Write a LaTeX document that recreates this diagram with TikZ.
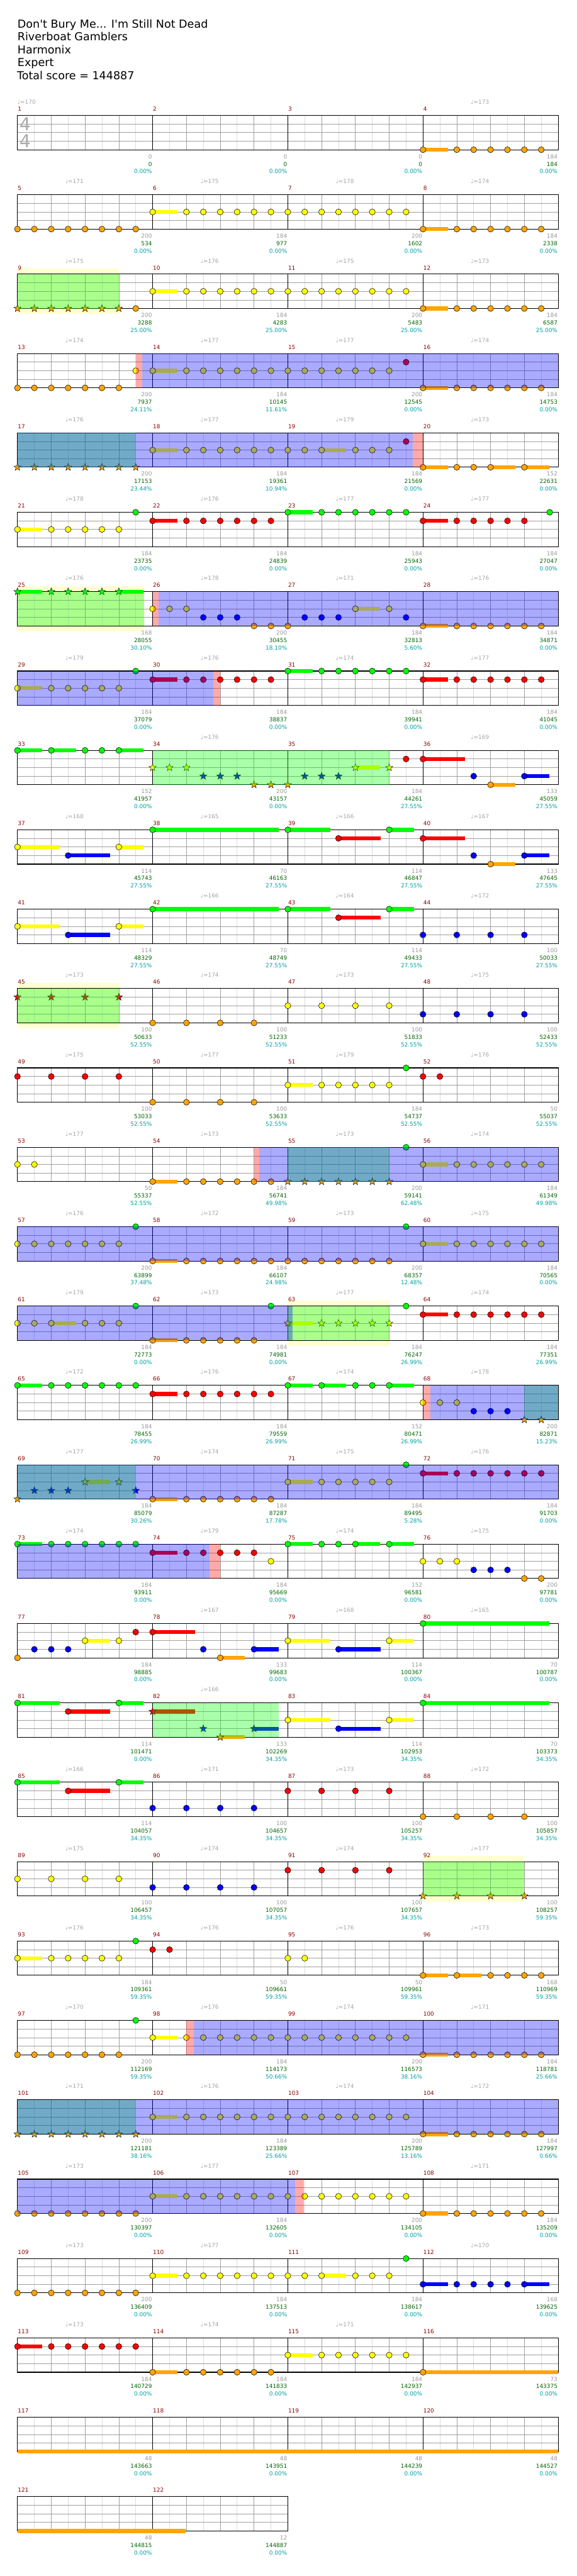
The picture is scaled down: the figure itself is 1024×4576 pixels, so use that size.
\documentclass[tikz,border=0pt]{standalone}
\usepackage{fontspec}
\setmainfont{DejaVu Sans}
\newfontfamily\dvs{DejaVu Sans}
\definecolor{cG}{RGB}{0,255,0}
\definecolor{cR}{RGB}{255,0,0}
\definecolor{cY}{RGB}{255,255,0}
\definecolor{cB}{RGB}{0,0,255}
\definecolor{cO}{RGB}{255,165,0}
\definecolor{cMnum}{RGB}{139,0,0}
\definecolor{cSgray}{RGB}{153,153,153}
\definecolor{cSgreen}{RGB}{0,100,0}
\definecolor{cScyan}{RGB}{0,160,160}
\definecolor{cBand}{RGB}{255,255,208}
\definecolor{cGrid}{RGB}{160,160,160}
\definecolor{cLight}{RGB}{220,220,220}
\definecolor{cTempo}{RGB}{165,165,165}
\definecolor{cTS}{RGB}{170,170,170}
\tikzset{
 notehead/.style={draw=black,line width=0.6pt},
 lightln/.style={draw=cLight,line width=0.8pt},
 gridln/.style={draw=cGrid,line width=0.8pt},
 measln/.style={draw=black,line width=0.8pt},
 frameln/.style={draw=black,line width=1.2pt},
 mnumst/.style={anchor=base west,inner sep=0pt,text=cMnum,font=\dvs\fontsize{10}{12}\selectfont},
 scst/.style={anchor=base east,inner sep=0pt,font=\dvs\fontsize{10}{12}\selectfont},
 tempost/.style={anchor=base west,inner sep=0pt,text=cTempo,font=\dvs\fontsize{10}{12}\selectfont},
 titlest/.style={anchor=base west,inner sep=0pt,font=\dvs\fontsize{19.6}{24}\selectfont},
 tsst/.style={anchor=base,inner sep=0pt,text=cTS,font=\dvs\fontsize{31.5}{36}\selectfont}
}
\def\laneG{0}\def\laneR{1}\def\laneY{2}\def\laneB{3}\def\laneO{4}
\newcommand\setxy[3]{%
 \pgfmathsetmacro\px{31+240*mod(#1-1,4)+30*#2}%
 \pgfmathsetmacro\py{205+141*floor((#1-1)/4)+15.25*\csname lane#3\endcsname}}
\newcommand\drawNH[3]{\setxy{#1}{#2}{#3}\path[notehead,fill=c#3] (\px,\py) circle[radius=5.3];}
\newcommand\drawSUS[4]{\setxy{#1}{#2}{#3}\fill[c#3] (\px,\py-3.5) rectangle (\px+#4,\py+3.5);}
\newcommand\drawSH[3]{\setxy{#1}{#2}{#3}\path[notehead,line width=0.5pt,fill=c#3] (\px,\py) +(-90:6.8) -- +(-54:2.8) -- +(-18:6.8) -- +(18:2.8) -- +(54:6.8) -- +(90:2.8) -- +(126:6.8) -- +(162:2.8) -- +(198:6.8) -- +(234:2.8) -- cycle;}
\newcommand\gobIII[3]{}
\newcommand\gobIV[4]{}
\newcommand\NHS[4]{\SUS{#1}{#2}{#3}{#4}\NH{#1}{#2}{#3}}
\newcommand\SHS[4]{\SUS{#1}{#2}{#3}{#4}\SH{#1}{#2}{#3}}
\newcommand\NL[3]{\foreach \ee in {#3}{\NH{#1}{\ee}{#2}}}
\newcommand\SL[3]{\foreach \ee in {#3}{\SH{#1}{\ee}{#2}}}
\newcommand\ROW[2]{%
 \pgfmathsetmacro\ty{205+141*#1}%
 \pgfmathsetmacro\xe{31+240*#2}%
 \pgfmathtruncatemacro\ne{8*#2-1}%
 \pgfmathtruncatemacro\nb{4*#2-1}%
 \pgfmathtruncatemacro\nm{#2-1}%
 \foreach \ii in {1,...,\ne}{\draw[lightln] (31+30*\ii,\ty) -- ++(0,61);}
 \foreach \ii in {1,...,\nb}{\draw[gridln] (31+60*\ii,\ty) -- ++(0,61);}
 \foreach \kk in {1,2,3}{\draw[gridln] (31,\ty+15.25*\kk) -- (\xe,\ty+15.25*\kk);}
 \foreach \ii in {1,...,\nm}{\draw[measln] (31+240*\ii,\ty) -- ++(0,61);}
 \draw[frameln] (31,\ty) rectangle (\xe,\ty+61);
 \foreach \jj in {1,...,#2}{\pgfmathtruncatemacro\mm{4*#1+\jj}\node[mnumst] (mn\mm) at (31+240*\jj-239.5,\ty-7.7) {\mm};}}
\newcommand\OV[4]{\pgfmathsetmacro\ty{205+141*#2}\fill[#1,fill opacity=0.3333] (#3,\ty) rectangle (#4,\ty+61);}
\newcommand\BAND[3]{\pgfmathsetmacro\ty{205+141*#1}\fill[cBand] (#2,\ty-10) rectangle (#3,\ty+71);}
\newcommand\SC[4]{\pgfmathsetmacro\xr{31+240*(mod(#1-1,4)+1)-1}\pgfmathsetmacro\ty{205+141*floor((#1-1)/4)}%
 \node[scst,text=cSgray] (sa#1) at (\xr,\ty+76.7) {#2};
 \node[scst,text=cSgreen] (sb#1) at (\xr,\ty+90) {#3};
 \node[scst,text=cScyan] (sc#1) at (\xr,\ty+103.3) {#4\%};}
\newcommand\TP[2]{\pgfmathsetmacro\xt{31+240*mod(#1-1,4)+85}\pgfmathsetmacro\ty{205+141*floor((#1-1)/4)}\node[tempost] (tp#1) at (\xt,\ty-20) {♩=#2};}
\newcommand\NOTEDATA{%
\NHS{4}{0}{O}{44}\NL{4}{O}{2,...,7}
\NL{5}{O}{0,...,7}
\NHS{6}{0}{Y}{44}\NL{6}{Y}{2,...,7}
\NL{7}{Y}{0,...,7}
\NHS{8}{0}{O}{44}\NL{8}{O}{2,...,7}
\SL{9}{O}{0,...,6}\NH{9}{7}{O}
\NHS{10}{0}{Y}{44}\NL{10}{Y}{2,...,7}
\NL{11}{Y}{0,...,7}
\NHS{12}{0}{O}{44}\NL{12}{O}{2,...,7}
\NL{13}{O}{0,...,6}\NH{13}{7}{Y}
\NHS{14}{0}{Y}{44}\NL{14}{Y}{2,...,7}
\NL{15}{Y}{0,...,6}\NH{15}{7}{R}
\NHS{16}{0}{O}{44}\NL{16}{O}{2,...,7}
\SL{17}{O}{0,...,7}
\NHS{18}{0}{Y}{44}\NL{18}{Y}{2,...,7}
\NL{19}{Y}{0,1,4,5,6}\NHS{19}{2}{Y}{44}\NH{19}{7}{R}
\NHS{20}{0}{O}{44}\NL{20}{O}{2,3}\NHS{20}{4}{O}{44}\NHS{20}{6}{O}{44}
\NHS{21}{0}{Y}{44}\NL{21}{Y}{2,...,6}\NH{21}{7}{G}
\NHS{22}{0}{R}{44}\NL{22}{R}{2,...,7}
\NHS{23}{0}{G}{44}\NL{23}{G}{2,...,7}
\NHS{24}{0}{R}{44}\NL{24}{R}{2,...,6}\NH{24}{7.5}{G}
\SHS{25}{0}{G}{44}\SL{25}{G}{2,...,5}\SHS{25}{6}{G}{44}
\NL{26}{Y}{0,1,2}\NL{26}{B}{3,4,5}\NL{26}{O}{6,7}
\NH{27}{0}{O}\NL{27}{B}{1,2,3}\NHS{27}{4}{Y}{44}\NH{27}{6}{Y}\NH{27}{7}{B}
\NHS{28}{0}{O}{44}\NL{28}{O}{2,...,7}
\NHS{29}{0}{Y}{44}\NL{29}{Y}{2,...,6}\NH{29}{7}{G}
\NHS{30}{0}{R}{44}\NL{30}{R}{2,...,7}
\NHS{31}{0}{G}{44}\NL{31}{G}{2,...,7}
\NHS{32}{0}{R}{44}\NL{32}{R}{2,...,7}
\NHS{33}{0}{G}{44}\NHS{33}{2}{G}{44}\NL{33}{G}{4,5}\NHS{33}{6}{G}{44}
\SL{34}{Y}{0,1,2}\SL{34}{B}{3,4,5}\SL{34}{O}{6,7}
\SH{35}{0}{O}\SL{35}{B}{1,2,3}\SHS{35}{4}{Y}{44}\SH{35}{6}{Y}\NH{35}{7}{R}
\NHS{36}{0}{R}{75}\NH{36}{3}{B}\NHS{36}{4}{O}{44}\NHS{36}{6}{B}{44}
\NHS{37}{0}{Y}{75}\NHS{37}{3}{B}{75}\NHS{37}{6}{Y}{44}
\NHS{38}{0}{G}{224}
\NHS{39}{0}{G}{75}\NHS{39}{3}{R}{75}\NHS{39}{6}{G}{44}
\NHS{40}{0}{R}{75}\NH{40}{3}{B}\NHS{40}{4}{O}{44}\NHS{40}{6}{B}{44}
\NHS{41}{0}{Y}{75}\NHS{41}{3}{B}{75}\NHS{41}{6}{Y}{44}
\NHS{42}{0}{G}{224}
\NHS{43}{0}{G}{75}\NHS{43}{3}{R}{75}\NHS{43}{6}{G}{44}
\NL{44}{B}{0,2,4,6}
\SL{45}{R}{0,2,4,6}
\NL{46}{O}{0,2,4,6}
\NL{47}{Y}{0,2,4,6}
\NL{48}{B}{0,2,4,6}
\NL{49}{R}{0,2,4,6}
\NL{50}{O}{0,2,4,6}
\NHS{51}{0}{Y}{44}\NL{51}{Y}{2,...,6}\NH{51}{7}{G}
\NL{52}{R}{0,1}
\NL{53}{Y}{0,1}
\NHS{54}{0}{O}{44}\NL{54}{O}{2,...,7}
\SL{55}{O}{0,...,6}\NH{55}{7}{G}
\NHS{56}{0}{Y}{44}\NL{56}{Y}{2,...,7}
\NL{57}{Y}{0,...,6}\NH{57}{7}{G}
\NHS{58}{0}{O}{44}\NL{58}{O}{2,...,7}
\NL{59}{O}{0,...,6}\NH{59}{7}{G}
\NHS{60}{0}{Y}{44}\NL{60}{Y}{2,...,7}
\NL{61}{Y}{0,1,4,5,6}\NHS{61}{2}{Y}{44}\NH{61}{7}{G}
\NHS{62}{0}{O}{44}\NL{62}{O}{2,...,6}\NH{62}{7}{G}
\SHS{63}{0}{Y}{44}\SL{63}{Y}{2,...,6}\NH{63}{7}{G}
\NHS{64}{0}{R}{44}\NL{64}{R}{2,...,7}
\NHS{65}{0}{G}{44}\NL{65}{G}{2,...,7}
\NHS{66}{0}{R}{44}\NL{66}{R}{2,...,7}
\NHS{67}{0}{G}{44}\NHS{67}{2}{G}{44}\NL{67}{G}{4,5}\NHS{67}{6}{G}{44}
\NL{68}{Y}{0,1,2}\NL{68}{B}{3,4,5}\SL{68}{O}{6,7}
\SH{69}{0}{O}\SL{69}{B}{1,2,3}\SHS{69}{4}{Y}{44}\SH{69}{6}{Y}\SH{69}{7}{B}
\NHS{70}{0}{O}{44}\NL{70}{O}{2,...,7}
\NHS{71}{0}{Y}{44}\NL{71}{Y}{2,...,6}\NH{71}{7}{G}
\NHS{72}{0}{R}{44}\NL{72}{R}{2,...,7}
\NHS{73}{0}{G}{44}\NL{73}{G}{2,...,7}
\NHS{74}{0}{R}{44}\NL{74}{R}{2,...,6}\NH{74}{7}{Y}
\NHS{75}{0}{G}{44}\NL{75}{G}{2,3}\NHS{75}{4}{G}{44}\NHS{75}{6}{G}{44}
\NL{76}{Y}{0,1,2}\NL{76}{B}{3,4,5}\NL{76}{O}{6,7}
\NH{77}{0}{O}\NL{77}{B}{1,2,3}\NHS{77}{4}{Y}{44}\NH{77}{6}{Y}\NH{77}{7}{R}
\NHS{78}{0}{R}{75}\NH{78}{3}{B}\NHS{78}{4}{O}{44}\NHS{78}{6}{B}{44}
\NHS{79}{0}{Y}{75}\NHS{79}{3}{B}{75}\NHS{79}{6}{Y}{44}
\NHS{80}{0}{G}{224}
\NHS{81}{0}{G}{75}\NHS{81}{3}{R}{75}\NHS{81}{6}{G}{44}
\SHS{82}{0}{R}{75}\SH{82}{3}{B}\SHS{82}{4}{O}{44}\SHS{82}{6}{B}{44}
\NHS{83}{0}{Y}{75}\NHS{83}{3}{B}{75}\NHS{83}{6}{Y}{44}
\NHS{84}{0}{G}{224}
\NHS{85}{0}{G}{75}\NHS{85}{3}{R}{75}\NHS{85}{6}{G}{44}
\NL{86}{B}{0,2,4,6}
\NL{87}{R}{0,2,4,6}
\NL{88}{O}{0,2,4,6}
\NL{89}{Y}{0,2,4,6}
\NL{90}{B}{0,2,4,6}
\NL{91}{R}{0,2,4,6}
\SL{92}{O}{0,2,4,6}
\NHS{93}{0}{Y}{44}\NL{93}{Y}{2,...,6}\NH{93}{7}{G}
\NL{94}{R}{0,1}
\NL{95}{Y}{0,1}
\NHS{96}{0}{O}{44}\NHS{96}{2}{O}{44}\NL{96}{O}{4,...,7}
\NL{97}{O}{0,...,6}\NH{97}{7}{G}
\NHS{98}{0}{Y}{44}\NL{98}{Y}{2,...,7}
\NL{99}{Y}{0,...,7}
\NHS{100}{0}{O}{44}\NL{100}{O}{2,...,7}
\SL{101}{O}{0,...,7}
\NHS{102}{0}{Y}{44}\NL{102}{Y}{2,...,7}
\NL{103}{Y}{0,...,7}
\NHS{104}{0}{O}{44}\NL{104}{O}{2,...,7}
\NL{105}{O}{0,...,7}
\NHS{106}{0}{Y}{44}\NL{106}{Y}{2,...,7}
\NL{107}{Y}{0,...,7}
\NHS{108}{0}{O}{44}\NL{108}{O}{2,...,7}
\NL{109}{O}{0,...,7}
\NHS{110}{0}{Y}{44}\NL{110}{Y}{2,...,7}
\NL{111}{Y}{0,1,4,5,6}\NHS{111}{2}{Y}{44}\NH{111}{7}{G}
\NHS{112}{0}{B}{44}\NL{112}{B}{2,...,5}\NHS{112}{6}{B}{44}
\NHS{113}{0}{R}{44}\NL{113}{R}{2,...,7}
\NHS{114}{0}{O}{44}\NL{114}{O}{2,...,7}
\NHS{115}{0}{Y}{44}\NL{115}{Y}{2,...,7}
\NHS{116}{0}{O}{240}
\SUS{117}{0}{O}{960}
\SUS{121}{0}{O}{299}}
\begin{document}
\begin{tikzpicture}[x=1pt,y=-1pt]
\useasboundingbox (0,0) rectangle (1024,4576);
\fill[white] (0,0) rectangle (1024,4576);
% title
\node[titlest] (t1) at (31,49.5) {Don't Bury Me... I'm Still Not Dead};
\node[titlest] (t2) at (31,72) {Riverboat Gamblers};
\node[titlest] (t3) at (31,95.3) {Harmonix};
\node[titlest] (t4) at (31,118.3) {Expert};
\node[titlest] (t5) at (30,141.7) {Total score = 144887};
% bands
\BAND{2}{31}{211}\BAND{6}{31}{256}\BAND{11}{31}{211}\BAND{15}{511}{691}\BAND{22}{751}{931}
% rows
\foreach \rr in {0,...,29}{\ROW{\rr}{4}}
\ROW{30}{2}
% time signature
\node[tsst] (ts1) at (44.5,232.3) {4};
\node[tsst] (ts2) at (44.5,262.3) {4};
% tempos
\node[tempost] (tp1) at (31,185) {♩=170};
\foreach \aa/\bb in {4/173,5/171,6/175,7/178,8/174,9/175,10/176,11/175,12/173,13/174,14/177,15/177,16/174,17/176,18/177,19/179,20/173,21/178,22/176,23/177,24/177,25/176,26/178,27/171,28/176,29/179,30/176,31/174,32/177,34/176,36/169,37/168,38/165,39/166,40/167,42/166,43/164,44/172,45/173,46/174,47/173,48/175,49/175,50/177,51/179,52/176,53/177,54/173,55/173,56/174,57/176,58/172,59/173,60/175,61/179,62/173,63/177,64/174,65/172,66/176,67/174,68/178,69/177,70/174,71/175,72/176,73/174,74/179,75/174,76/175,78/167,79/168,80/165,82/166,85/166,86/171,87/173,88/172,89/175,90/174,91/174,92/177,93/176,94/176,95/176,96/173,97/170,98/176,99/174,100/171,101/171,102/176,103/174,104/172,105/173,106/177,108/171,109/173,110/177,112/170,113/173,114/174,115/171}{\TP{\aa}{\bb}}
% scores
\foreach \aa/\bb/\cc/\dd in {1/0/0/0.00,2/0/0/0.00,3/0/0/0.00,4/184/184/0.00,5/200/534/0.00,6/184/977/0.00,7/200/1602/0.00,8/184/2338/0.00,9/200/3288/25.00,10/184/4283/25.00,11/200/5483/25.00,12/184/6587/25.00,13/200/7937/24.11,14/184/10145/11.61,15/200/12545/0.00,16/184/14753/0.00,17/200/17153/23.44,18/184/19361/10.94,19/184/21569/0.00,20/152/22631/0.00,21/184/23735/0.00,22/184/24839/0.00,23/184/25943/0.00,24/184/27047/0.00,25/168/28055/30.10,26/200/30455/18.10,27/184/32813/5.60,28/184/34871/0.00,29/184/37079/0.00,30/184/38837/0.00,31/184/39941/0.00,32/184/41045/0.00,33/152/41957/0.00,34/200/43157/0.00,35/184/44261/27.55,36/133/45059/27.55,37/114/45743/27.55,38/70/46163/27.55,39/114/46847/27.55,40/133/47645/27.55,41/114/48329/27.55,42/70/48749/27.55,43/114/49433/27.55,44/100/50033/27.55,45/100/50633/52.55,46/100/51233/52.55,47/100/51833/52.55,48/100/52433/52.55,49/100/53033/52.55,50/100/53633/52.55,51/184/54737/52.55,52/50/55037/52.55,53/50/55337/52.55,54/184/56741/49.98,55/200/59141/62.48,56/184/61349/49.98,57/200/63899/37.48,58/184/66107/24.98,59/200/68357/12.48,60/184/70565/0.00,61/184/72773/0.00,62/184/74981/0.00,63/184/76247/26.99,64/184/77351/26.99,65/184/78455/26.99,66/184/79559/26.99,67/152/80471/26.99,68/200/82871/15.23,69/184/85079/30.26,70/184/87287/17.78,71/184/89495/5.28,72/184/91703/0.00,73/184/93911/0.00,74/184/95669/0.00,75/152/96581/0.00,76/200/97781/0.00,77/184/98885/0.00,78/133/99683/0.00,79/114/100367/0.00,80/70/100787/0.00,81/114/101471/0.00,82/133/102269/34.35,83/114/102953/34.35,84/70/103373/34.35,85/114/104057/34.35,86/100/104657/34.35,87/100/105257/34.35,88/100/105857/34.35,89/100/106457/34.35,90/100/107057/34.35,91/100/107657/34.35,92/100/108257/59.35,93/184/109361/59.35,94/50/109661/59.35,95/50/109961/59.35,96/168/110969/59.35,97/200/112169/59.35,98/184/114173/50.66,99/200/116573/38.16,100/184/118781/25.66,101/200/121181/38.16,102/184/123389/25.66,103/200/125789/13.16,104/184/127997/0.66,105/200/130397/0.00,106/184/132605/0.00,107/200/134105/0.00,108/184/135209/0.00,109/200/136409/0.00,110/184/137513/0.00,111/184/138617/0.00,112/168/139625/0.00,113/184/140729/0.00,114/184/141833/0.00,115/184/142937/0.00,116/73/143375/0.00,117/48/143663/0.00,118/48/143951/0.00,119/48/144239/0.00,120/48/144527/0.00,121/48/144815/0.00,122/12/144887/0.00}{\SC{\aa}{\bb}{\cc}{\dd}}
% sustains, then note heads
{\let\NH\gobIII\let\SH\gobIII\let\SUS\drawSUS\NOTEDATA}
{\let\NH\drawNH\let\SH\drawSH\let\SUS\gobIV\NOTEDATA}
% star power phrases (green)
\OV{cG}{2}{31}{211}\OV{cG}{4}{31}{241}\OV{cG}{6}{31}{256}\OV{cG}{8}{271}{691}
\OV{cG}{11}{31}{211}\OV{cG}{13}{511}{691}\OV{cG}{15}{511}{691}\OV{cG}{16}{931}{991}
\OV{cG}{17}{31}{241}\OV{cG}{20}{271}{495}\OV{cG}{22}{751}{931}\OV{cG}{25}{31}{241}
% activations (blue) and markers (red)
\OV{cR}{3}{241}{253}\OV{cB}{3}{253}{991}\OV{cB}{4}{31}{733}\OV{cR}{4}{733}{751}
\OV{cR}{6}{271}{281}\OV{cB}{6}{281}{991}\OV{cB}{7}{31}{379}\OV{cR}{7}{379}{391}
\OV{cR}{13}{451}{460}\OV{cB}{13}{460}{991}\OV{cB}{14}{31}{991}\OV{cB}{15}{31}{519}
\OV{cR}{16}{751}{764}\OV{cB}{16}{764}{991}\OV{cB}{17}{31}{991}\OV{cB}{18}{31}{372}\OV{cR}{18}{372}{391}
\OV{cR}{24}{331}{344}\OV{cB}{24}{344}{991}\OV{cB}{25}{31}{991}\OV{cB}{26}{31}{524}\OV{cR}{26}{524}{540}
\end{tikzpicture}
\end{document}
